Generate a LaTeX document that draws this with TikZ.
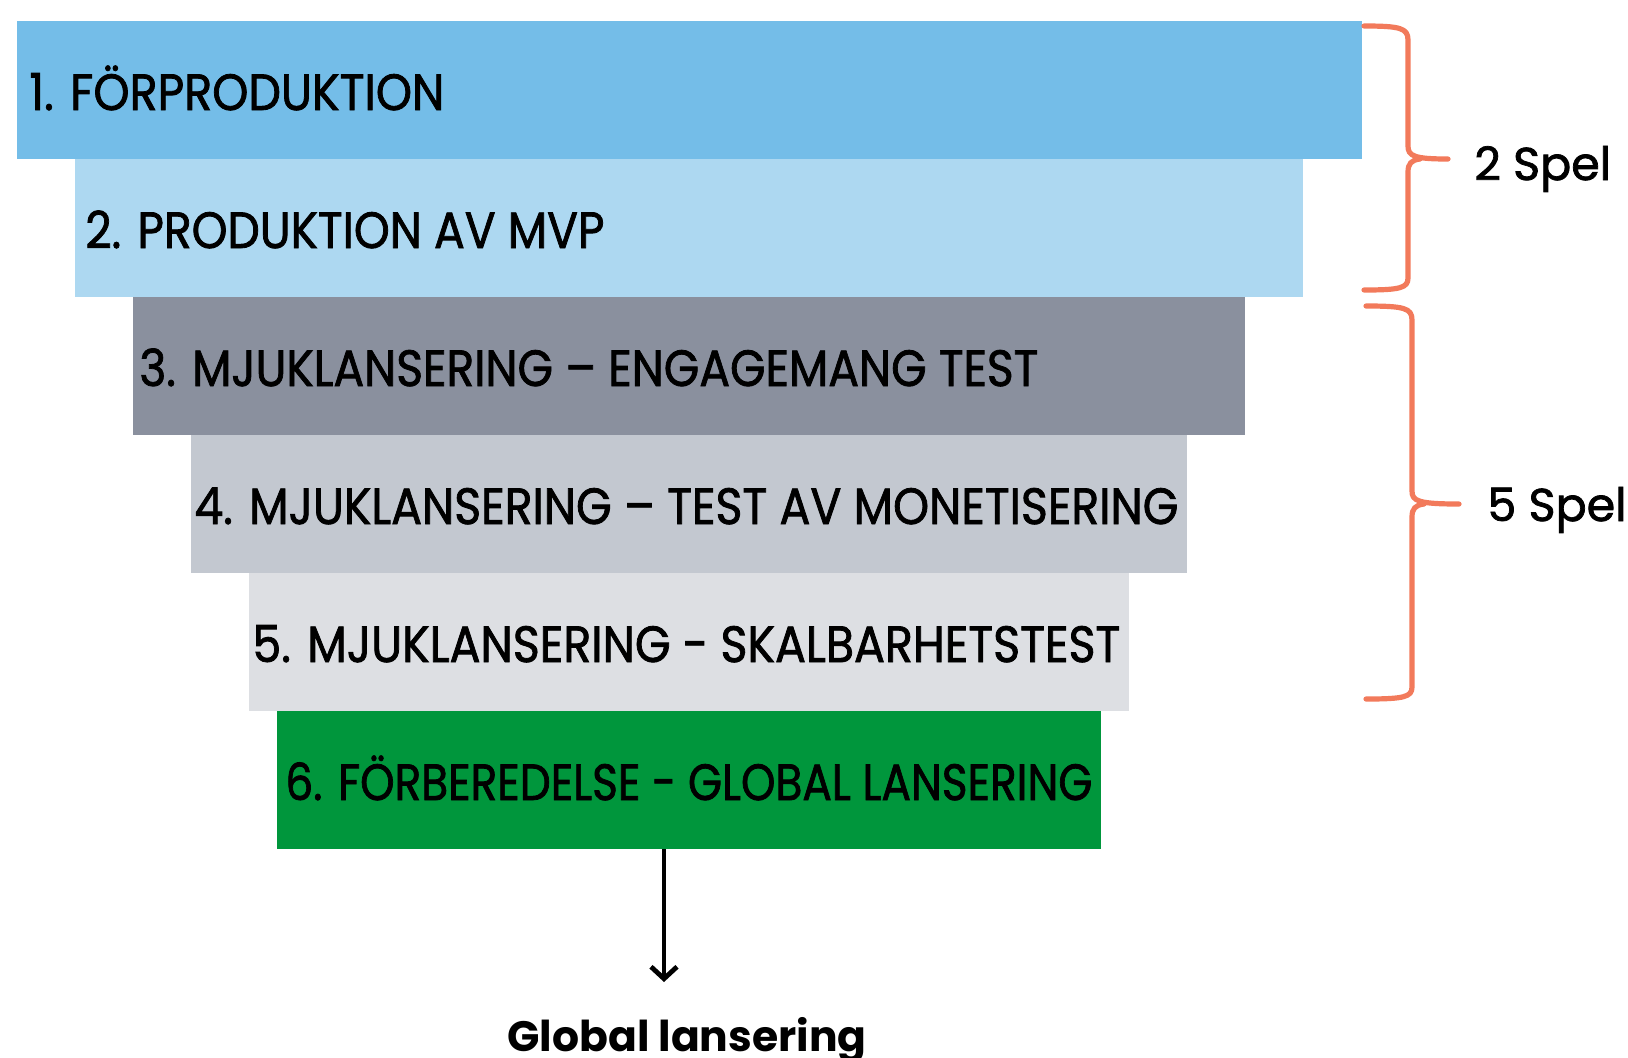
\documentclass[tikz,border=0pt]{standalone}
\usepackage{fontspec}
\setmainfont{Poppins}
\newfontfamily\stagefont{Poppins}[FakeBold=1.6]
\usetikzlibrary{positioning,arrows.meta}

\definecolor{stageone}{HTML}{74BDE8}
\definecolor{stagetwo}{HTML}{ADD8F1}
\definecolor{stagethree}{HTML}{8A909E}
\definecolor{stagefour}{HTML}{C3C8D0}
\definecolor{stagefive}{HTML}{DDDFE3}
\definecolor{stagesix}{HTML}{00963C}
\definecolor{bracered}{HTML}{F27A5B}

% squeeze a label to a given width, keep its height
\newcommand{\squeeze}[2]{\resizebox{#1}{\height}{#2}}

\tikzset{
  stage/.style={anchor=north west,minimum height=69pt,inner sep=0pt,outer sep=0pt},
  stagetext/.style={inner sep=0pt,text height=20pt,text depth=0pt,font=\stagefont\fontsize{25.5}{30}\selectfont},
  gamebrace/.style={draw=bracered,line width=2.6pt,line cap=round,line join=round},
  spel/.style={inner sep=0pt,text height=16pt,text depth=0pt,font=\stagefont\fontsize{23}{28}\selectfont},
}

\begin{document}
\begin{tikzpicture}[x=0.5pt,y=-0.5pt]
\useasboundingbox (0,0) rectangle (1628,1057);

% the six stages
\node[stage,fill=stageone,minimum width=672.5pt] (b1) at (16.5,21) {};
\node[stage,fill=stagetwo,minimum width=614pt] (b2) at (75,159) {};
\node[stage,fill=stagethree,minimum width=556pt] (b3) at (133,297) {};
\node[stage,fill=stagefour,minimum width=498pt] (b4) at (191,435) {};
\node[stage,fill=stagefive,minimum width=440pt] (b5) at (249,573) {};
\node[stage,fill=stagesix,minimum width=412pt] (b6) at (277,711) {};

\node[stagetext,right=6.25pt of b1.west] (t1) {\squeeze{207.5pt}{1. FÖRPRODUKTION}};
\node[stagetext,right=5pt of b2.west] (t2) {\squeeze{259.5pt}{2. PRODUKTION AV MVP}};
\node[stagetext,right=3pt of b3.west] (t3) {\squeeze{449.5pt}{3. MJUKLANSERING – ENGAGEMANG TEST}};
\node[stagetext,right=1.5pt of b4.west] (t4) {\squeeze{492pt}{4. MJUKLANSERING – TEST AV MONETISERING}};
\node[stagetext,right=1.5pt of b5.west] (t5) {\squeeze{434pt}{5. MJUKLANSERING - SKALBARHETSTEST}};
\node[stagetext,right=4pt of b6.west] (t6) {\squeeze{403.5pt}{6. FÖRBEREDELSE - GLOBAL LANSERING}};

% launch
\node[inner sep=0pt,anchor=base,font=\fontsize{21.25}{26}\selectfont\bfseries] (gl) at (687,1051) {Global lansering};
\coordinate (launch) at (664,982);
\draw[line width=2.4pt,-{Straight Barb[length=6pt,width=13pt]}] (b6.south-|launch) -- (launch);

% braces
\coordinate (tipA) at (1448,159);
\coordinate (tipB) at (1459,504);
\draw[gamebrace] (1364,26) .. controls (1400,26) and (1408,28) .. (1408,40) -- (1408,146)
  .. controls (1408,156) and (1414,159) .. (tipA)
  (1420,159) .. controls (1411,160) and (1408,164) .. (1408,172) -- (1408,278)
  .. controls (1408,288) and (1400,290) .. (1364,290);
\draw[gamebrace] (1366,306) .. controls (1404,306) and (1412,308) .. (1412,320) -- (1412,491)
  .. controls (1412,501) and (1418,504) .. (tipB)
  (1424,504) .. controls (1415,505) and (1412,509) .. (1412,517) -- (1412,687)
  .. controls (1412,697) and (1404,699) .. (1366,699);
\node[spel,right=13pt of tipA,yshift=-2.5pt] (spelA) {2 Spel};
\node[spel,right=14pt of tipB,yshift=-0.5pt] (spelB) {5 Spel};
\end{tikzpicture}
\end{document}
